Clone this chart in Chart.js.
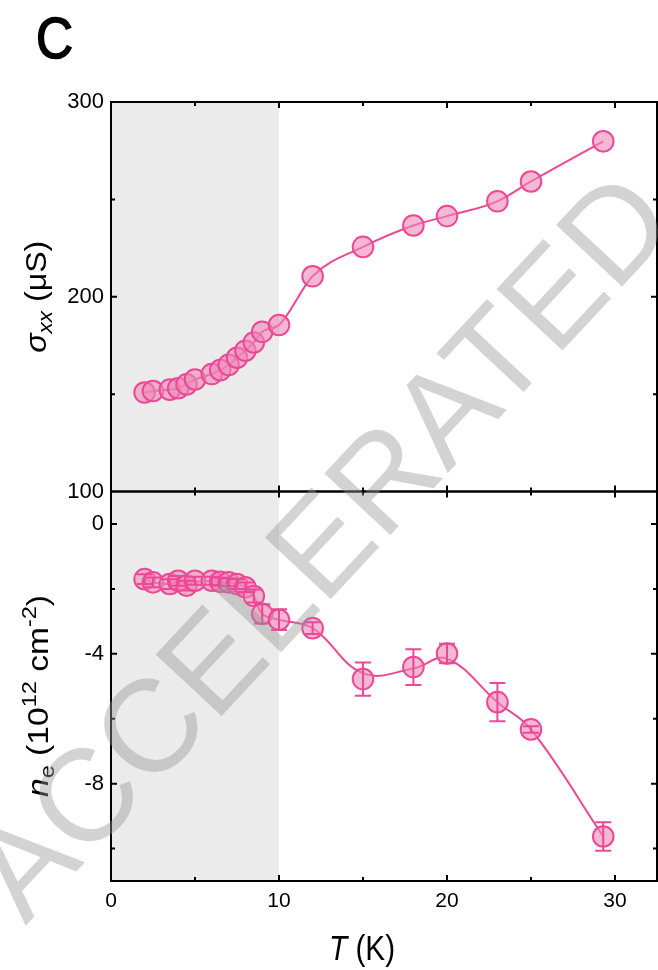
<!DOCTYPE html>
<html>
<head>
<meta charset="utf-8">
<script src="https://cdn.jsdelivr.net/npm/chart.js@4/dist/chart.umd.min.js"></script>
<style>
  html, body { margin: 0; padding: 0; background: #ffffff; }
  #wrap { position: relative; width: 658px; height: 970px; }
  canvas { display: block; }
</style>
</head>
<body>
<div id="wrap"><canvas id="chart" width="658" height="970"></canvas></div>
<script>
// Temperature sweep (K)
const temperatures = [2, 2.5, 3.5, 4, 4.5, 5, 6, 6.5, 7, 7.5, 8, 8.5, 9, 10, 12, 15, 18, 20, 23, 25, 29.3];
// Longitudinal conductivity sigma_xx (µS)
const sigmaXX = [150.8, 151.6, 152.3, 153, 155, 157.5, 160.3, 162.3, 165, 168.7, 172.3, 176.5, 182, 185.5, 210.5, 225.6, 236.6, 241.4, 249, 259.2, 279.8];
// Carrier density n_e (1e12 cm^-2) with its uncertainty
const electronDensity = [-1.7, -1.8, -1.85, -1.75, -1.9, -1.75, -1.75, -1.78, -1.8, -1.85, -1.95, -2.22, -2.77, -2.95, -3.21, -4.78, -4.41, -3.99, -5.49, -6.33, -9.63];
const densityError = [0.15, 0.15, 0.15, 0.15, 0.15, 0.12, 0.12, 0.12, 0.12, 0.15, 0.15, 0.2, 0.3, 0.32, 0.18, 0.51, 0.55, 0.3, 0.59, 0.1, 0.44];
// Smooth guide-to-the-eye through the density data
const densityGuide = [-1.7, -1.8, -1.85, -1.75, -1.85, -1.78, -1.76, -1.78, -1.8, -1.85, -1.95, -2.22, -2.77, -2.95, -3.21, -4.6, -4.45, -4.15, -5.49, -6.33, -9.63];

// Axis ticks
const xTicks = [0, 10, 20, 30];
const xMinorTicks = [5, 15, 25];
const sigmaTicks = [100, 200, 300];
const sigmaMinorTicks = [150, 250];
const densityTicks = [-8, -4, 0];
const densityMinorTicks = [-10, -6, -2];
// Low-temperature region highlighted in grey (K)
const shadedRange = [0, 10];

const PINK = 'rgb(236, 72, 150)';
const PINK_FILL = 'rgba(238, 137, 183, 0.6)';
const FONT = '"Liberation Sans", Arial, Helvetica, sans-serif';

Chart.defaults.font.family = FONT;
Chart.defaults.color = '#000';

function points(xs, ys) { return xs.map((x, i) => ({ x: x, y: ys[i] })); }
function setTicks(values) { return scale => { scale.ticks = values.map(v => ({ value: v })); }; }

// Draw a run of text pieces (italic / sub / superscript), centred on (cx, cy)
function drawRich(ctx, parts, cx, cy, angle, along) {
  ctx.save();
  ctx.translate(cx, cy);
  ctx.rotate(angle);
  ctx.scale(along, 1);
  let total = 0;
  const widths = parts.map(p => {
    ctx.font = (p.italic ? 'italic ' : '') + p.size + 'px ' + FONT;
    const w = ctx.measureText(p.t).width;
    total += w;
    return w;
  });
  let x = -total / 2;
  ctx.fillStyle = '#000';
  ctx.textBaseline = 'alphabetic';
  ctx.textAlign = 'left';
  parts.forEach((p, i) => {
    ctx.font = (p.italic ? 'italic ' : '') + p.size + 'px ' + FONT;
    ctx.fillText(p.t, x, p.dy || 0);
    x += widths[i];
  });
  ctx.restore();
}

const panelDecor = {
  id: 'panelDecor',
  beforeDatasetsDraw(chart) {
    const { ctx, chartArea: ca, scales } = chart;
    const x = scales.x;
    ctx.save();
    ctx.fillStyle = '#ebebeb';
    const x0 = x.getPixelForValue(shadedRange[0]);
    const x1 = x.getPixelForValue(shadedRange[1]);
    ctx.fillRect(x0, ca.top, x1 - x0, ca.bottom - ca.top);
    ctx.restore();
  },
  afterDatasetsDraw(chart) {
    const { ctx, chartArea: ca, scales } = chart;
    const x = scales.x, yS = scales.ySig, yN = scales.yN;

    // error bars on the density points
    ctx.save();
    ctx.strokeStyle = PINK;
    ctx.lineWidth = 2;
    temperatures.forEach((t, i) => {
      const px = x.getPixelForValue(t);
      const lo = yN.getPixelForValue(electronDensity[i] - densityError[i]);
      const hi = yN.getPixelForValue(electronDensity[i] + densityError[i]);
      ctx.beginPath();
      ctx.moveTo(px, lo); ctx.lineTo(px, hi);
      ctx.moveTo(px - 8, lo); ctx.lineTo(px + 8, lo);
      ctx.moveTo(px - 8, hi); ctx.lineTo(px + 8, hi);
      ctx.stroke();
    });
    ctx.restore();

    // frames and inward ticks for both panels
    ctx.save();
    ctx.strokeStyle = '#000';
    ctx.lineWidth = 2;
    const panels = [
      { s: yS, major: sigmaTicks, minor: sigmaMinorTicks },
      { s: yN, major: densityTicks, minor: densityMinorTicks }
    ];
    panels.forEach(p => {
      const top = p.s.top, bottom = p.s.bottom;
      ctx.strokeRect(ca.left, top, ca.right - ca.left, bottom - top);
      ctx.beginPath();
      const xt = (vals, len) => vals.forEach(v => {
        const px = x.getPixelForValue(v);
        if (px <= ca.left + 1 || px >= ca.right - 1) return;
        ctx.moveTo(px, top); ctx.lineTo(px, top + len);
        ctx.moveTo(px, bottom); ctx.lineTo(px, bottom - len);
      });
      const yt = (vals, len) => vals.forEach(v => {
        const py = p.s.getPixelForValue(v);
        if (py <= top + 1 || py >= bottom - 1) return;
        ctx.moveTo(ca.left, py); ctx.lineTo(ca.left + len, py);
        ctx.moveTo(ca.right, py); ctx.lineTo(ca.right - len, py);
      });
      xt(xTicks, 6); xt(xMinorTicks, 4);
      yt(p.major, 6); yt(p.minor, 4);
      ctx.stroke();
    });
    ctx.restore();
  },
  afterDraw(chart) {
    const { ctx, scales } = chart;
    const yS = scales.ySig;

    // panel letter
    ctx.save();
    ctx.translate(36, 58);
    ctx.scale(0.9, 1);
    ctx.font = '57px ' + FONT;
    ctx.fillStyle = '#000';
    ctx.strokeStyle = '#000';
    ctx.lineWidth = 1.6;
    ctx.textBaseline = 'alphabetic';
    ctx.fillText('C', 0, 0);
    ctx.strokeText('C', 0, 0);
    ctx.restore();

    // axis titles
    drawRich(ctx, [
      { t: 'T', italic: true, size: 35 },
      { t: ' (K)', size: 35 }
    ], 362, 960, 0, 0.85);

    drawRich(ctx, [
      { t: 'σ', italic: true, size: 30 },
      { t: 'xx', italic: true, size: 21, dy: 6 },
      { t: ' (μS)', size: 30 }
    ], 46, (yS.top + yS.bottom) / 2, -Math.PI / 2, 1.07);

    drawRich(ctx, [
      { t: 'n', italic: true, size: 30 },
      { t: 'e', size: 21, dy: 6 },
      { t: ' (10', size: 30 },
      { t: '12', size: 21, dy: -12 },
      { t: ' cm', size: 30 },
      { t: '-2', size: 21, dy: -12 },
      { t: ')', size: 30 }
    ], 48, 696, -Math.PI / 2, 1.12);

    // ACCELERATED overlay
    ctx.save();
    ctx.translate(326, 551);
    ctx.rotate(-47 * Math.PI / 180);
    ctx.font = '131px ' + FONT;
    ctx.fillStyle = 'rgba(150, 150, 150, 0.42)';
    ctx.textAlign = 'center';
    ctx.textBaseline = 'middle';
    ctx.fillText('ACCELERATED', 0, 0);
    ctx.restore();
  }
};

const xTickFont = { size: 21, family: FONT };
const yTickFont = { size: 22, family: FONT };

new Chart(document.getElementById('chart'), {
  type: 'line',
  data: {
    datasets: [
      {
        label: 'sigma_xx',
        yAxisID: 'ySig',
        data: points(temperatures, sigmaXX),
        borderColor: PINK,
        borderWidth: 2,
        cubicInterpolationMode: 'monotone',
        pointRadius: 10.3,
        pointBorderWidth: 2,
        pointBorderColor: PINK,
        pointBackgroundColor: PINK_FILL,
        fill: false,
        order: 1
      },
      {
        label: 'n_e',
        yAxisID: 'yN',
        data: points(temperatures, electronDensity),
        showLine: false,
        pointRadius: 10.3,
        pointBorderWidth: 2,
        pointBorderColor: PINK,
        pointBackgroundColor: PINK_FILL,
        order: 1
      },
      {
        label: 'n_e guide',
        yAxisID: 'yN',
        data: points(temperatures, densityGuide),
        borderColor: PINK,
        borderWidth: 2,
        tension: 0.4,
        pointRadius: 0,
        fill: false,
        order: 2
      }
    ]
  },
  options: {
    responsive: false,
    animation: false,
    devicePixelRatio: 1,
    events: [],
    layout: { autoPadding: false, padding: { top: 102, right: 1, left: 0, bottom: 0 } },
    plugins: { legend: { display: false }, tooltip: { enabled: false } },
    scales: {
      x: {
        type: 'linear', position: 'bottom', min: 0, max: 32.5,
        grid: { display: false, drawTicks: false },
        border: { display: false },
        ticks: { font: xTickFont, color: '#000', padding: 8, maxRotation: 0 },
        afterBuildTicks: setTicks(xTicks),
        afterFit: s => { s.height = 89; }
      },
      yN: {
        type: 'linear', position: 'left', stack: 'panels', stackWeight: 1,
        min: -11, max: 1,
        grid: { display: false, drawTicks: false },
        border: { display: false },
        ticks: { font: yTickFont, color: '#000', padding: 7 },
        afterBuildTicks: setTicks(densityTicks),
        afterFit: s => { s.width = 111; }
      },
      ySig: {
        type: 'linear', position: 'left', stack: 'panels', stackWeight: 1,
        min: 100, max: 300,
        grid: { display: false, drawTicks: false },
        border: { display: false },
        ticks: { font: yTickFont, color: '#000', padding: 7 },
        afterBuildTicks: setTicks(sigmaTicks),
        afterFit: s => { s.width = 111; }
      }
    }
  },
  plugins: [panelDecor]
});
</script>
</body>
</html>
